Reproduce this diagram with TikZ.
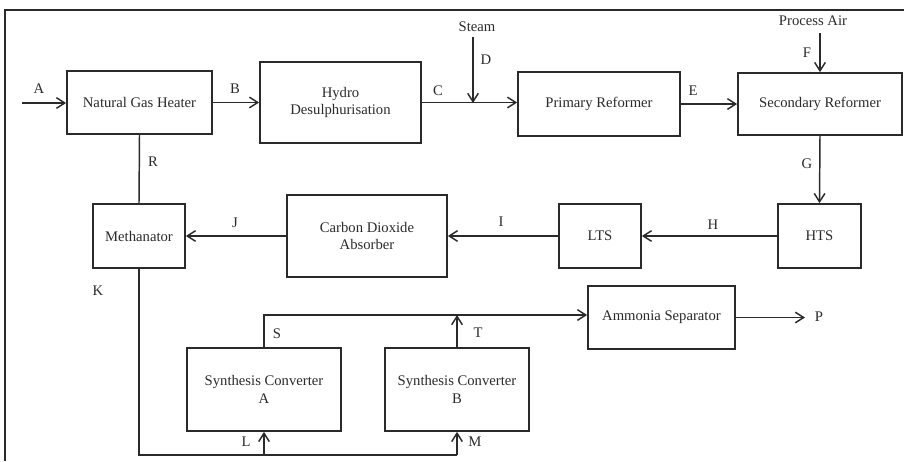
\documentclass[tikz,border=0pt]{standalone}
\usepackage{fontspec}
\setmainfont{Liberation Serif}
\usetikzlibrary{arrows.meta}
\definecolor{ink}{HTML}{2A2A2A}
\tikzset{
  blk/.style={draw=ink,text=ink,line width=1.3pt,align=center,inner sep=2pt,font=\fontsize{11}{13}\selectfont},
  flow/.style={-{Straight Barb[length=2.2mm,width=2.8mm]},ink,line width=1.1pt},
  pipe/.style={ink,line width=1.1pt},
  lbl/.style={text=ink,inner sep=0pt,font=\fontsize{11}{13}\selectfont},
  rahmen/.style={ink,line width=1.8pt},
}

\begin{document}
\begin{tikzpicture}[x=0.75pt,y=-0.75pt]
  \useasboundingbox (0,0) rectangle (904,461);
  \draw[rahmen] (5,461)--(5,10)--(904,10);
  % units
  \node[blk,minimum width=108.75pt,minimum height=47.25pt] (ngh) at (139.5,102.5) {Natural Gas Heater};
  \node[blk,minimum width=120.75pt,minimum height=60.75pt] (hds) at (340.5,102.5) {Hydro\\Desulphurisation};
  \node[blk,minimum width=121.5pt,minimum height=48pt] (prim) at (599,104) {Primary Reformer};
  \node[blk,minimum width=123pt,minimum height=46.5pt] (sec) at (820,104) {Secondary Reformer};
  \node[blk,minimum width=62.25pt,minimum height=48pt] (hts) at (819.5,236) {HTS};
  \node[blk,minimum width=61.5pt,minimum height=48pt] (lts) at (600,236) {LTS};
  \node[blk,minimum width=120pt,minimum height=61.5pt] (cda) at (367,236) {Carbon Dioxide\\Absorber};
  \node[blk,minimum width=69pt,minimum height=48pt] (meth) at (139,236) {Methanator};
  \node[blk,minimum width=110.25pt,minimum height=47.25pt] (amm) at (661.5,317.5) {Ammonia Separator};
  \node[blk,minimum width=115.5pt,minimum height=62.25pt] (sca) at (264,389.5) {Synthesis Converter\\A};
  \node[blk,minimum width=108pt,minimum height=62.25pt] (scb) at (457,389.5) {Synthesis Converter\\B};
  % feeds
  \node[lbl] (steam) at (477,27) {Steam};
  \node[lbl] (air) at (813,21) {Process Air};
  \coordinate (feed) at (22,103);
  \coordinate (stm) at (473,37);
  \coordinate (mix) at (473,103);
  \coordinate (airin) at (820,33);
  \coordinate (kb) at (139,455);
  \coordinate (hdr) at (261,315);
  \coordinate (prod) at (805,317.5);
  % streams
  \draw[flow] (feed) -- (feed -| ngh.west);
  \draw[flow] (ngh.east) -- (hds.west);
  \draw[flow] (hds.east) -- (prim.west |- hds.east);
  \draw[flow] (stm) -- (mix);
  \draw[flow] (prim.east) -- (sec.west);
  \draw[flow] (airin) -- (sec.north);
  \draw[flow] (sec.south) -- (hts.north);
  \draw[flow] (hts) -- (lts);
  \draw[flow] (lts) -- (cda);
  \draw[flow] (cda) -- (meth);
  \draw[pipe] (ngh.south) -- (meth.north);
  \draw[pipe] (meth.south) -- (meth.south |- kb) -- (scb.south |- kb);
  \draw[flow] (sca.south |- kb) -- (sca.south);
  \draw[flow] (scb.south |- kb) -- (scb.south);
  \draw[flow] (sca.north) -- (sca.north |- hdr) -- (amm.west |- hdr);
  \draw[flow] (scb.north) -- (scb.north |- hdr);
  \draw[flow] (amm.east) -- (prod);
  % stream letters
  \node[lbl] (la) at (39,89) {A};
  \node[lbl] (lb) at (235,89) {B};
  \node[lbl] (lc) at (438,91) {C};
  \node[lbl] (ld) at (486,60) {D};
  \node[lbl] (le) at (693,91) {E};
  \node[lbl] (lf) at (807,53) {F};
  \node[lbl] (lg) at (807,164) {G};
  \node[lbl] (lh) at (713,225) {H};
  \node[lbl] (li) at (501,222) {I};
  \node[lbl] (lj) at (235,223) {J};
  \node[lbl] (lr) at (153,162) {R};
  \node[lbl] (lk) at (98,291) {K};
  \node[lbl] (ls) at (277,334) {S};
  \node[lbl] (lt) at (478,333) {T};
  \node[lbl] (ll) at (246,442) {L};
  \node[lbl] (lm) at (475,442) {M};
  \node[lbl] (lp) at (819,317) {P};
\end{tikzpicture}
\end{document}
